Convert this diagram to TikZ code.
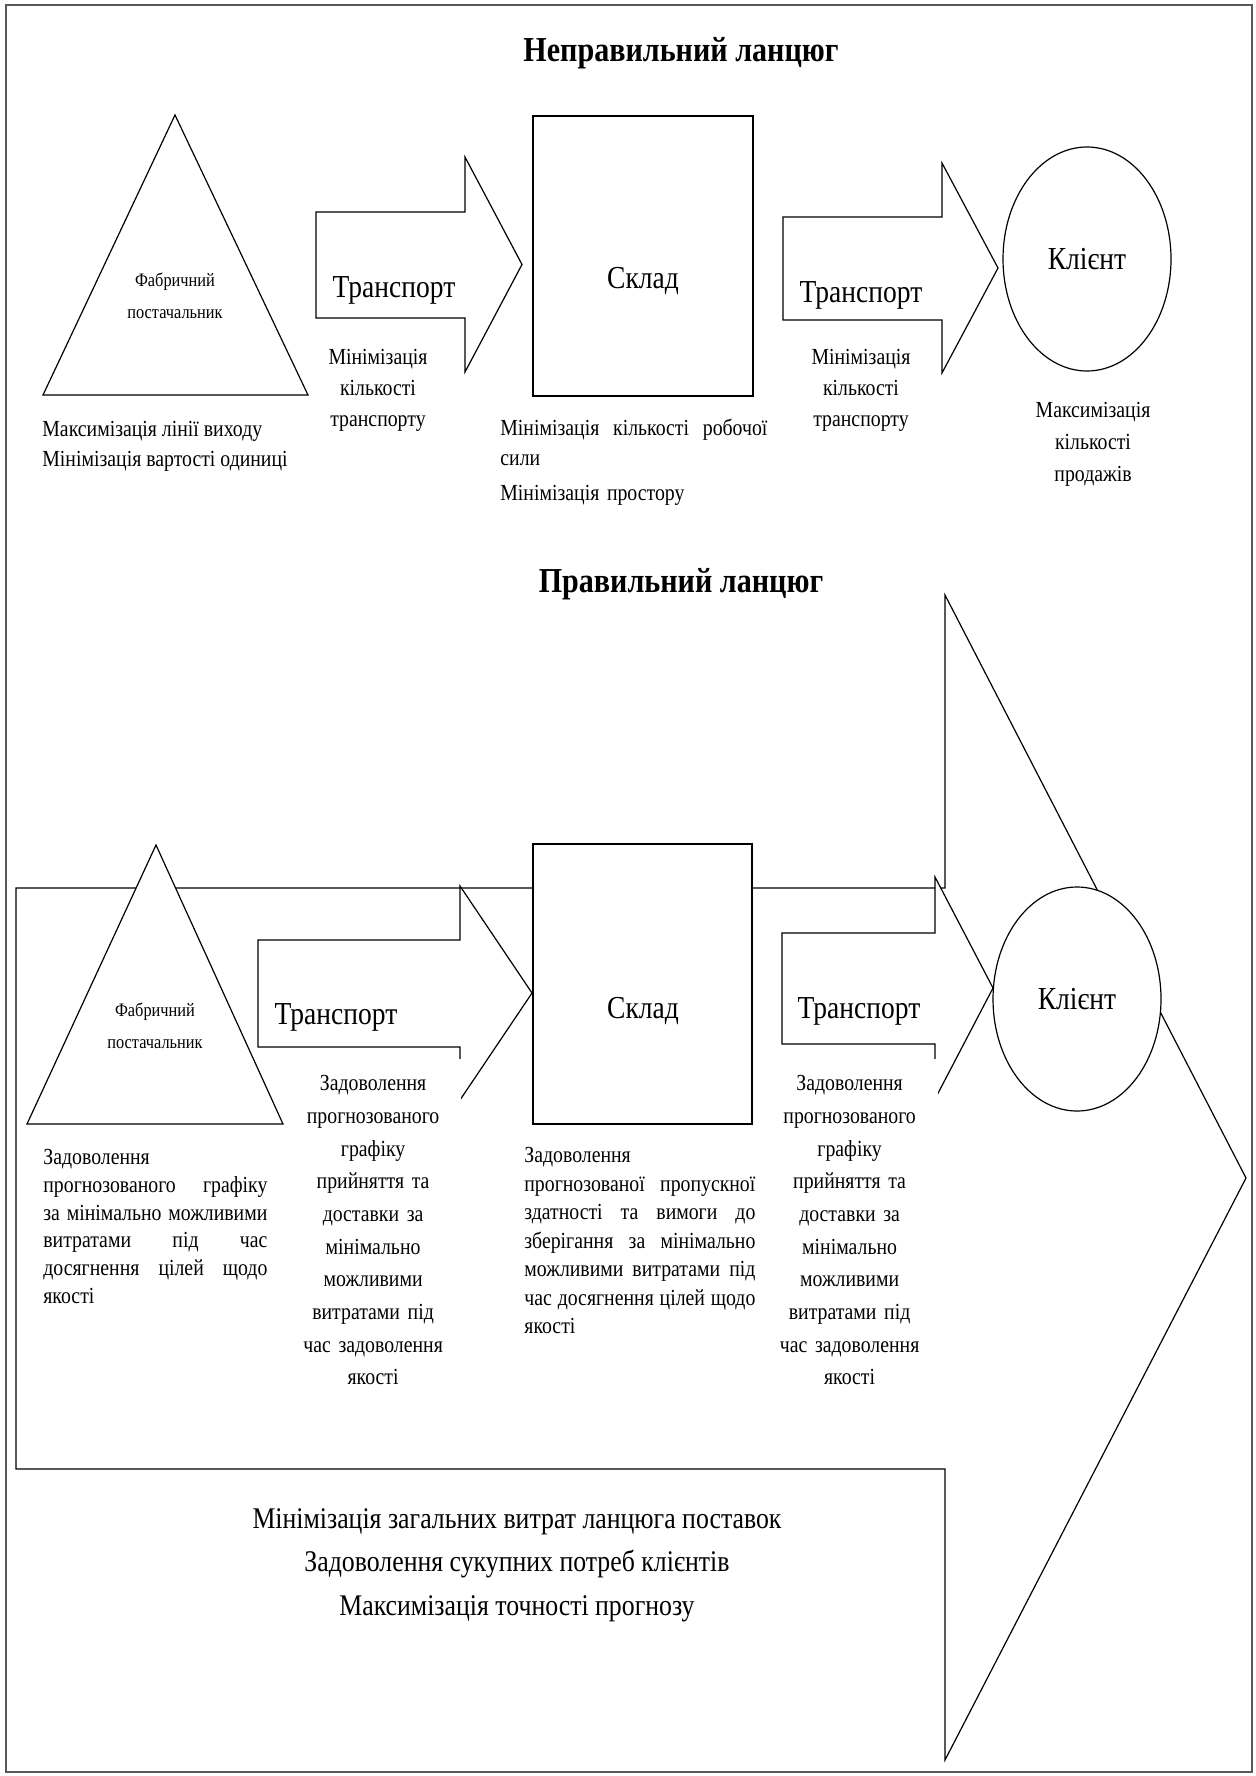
\documentclass[tikz,border=0pt]{standalone}
\usepackage{fontspec}
\setmainfont{Liberation Serif}[FakeStretch=0.86]
\usetikzlibrary{shapes.geometric}

% a line set out to the full width of its box
\newcommand{\jline}[1]{\makebox[\hsize][s]{\spaceskip=0.25em plus 1fil\relax #1}}
% block arrow: left, neck, tip, body top, body bottom, head top, head bottom
\newcommand{\blockarrow}[7]{%
  \draw[figline, fill=white] (#1,#4) -- (#2,#4) -- (#2,#6) -- (#3,{(#6+#7)/2})
    -- (#2,#7) -- (#2,#5) -- (#1,#5) -- cycle;}

\begin{document}
\begin{tikzpicture}[x=0.5pt, y=-0.5pt]
  \tikzstyle{figline} = [draw=black, line width=0.6pt]
  \tikzstyle{heading} = [anchor=base, font=\fontsize{17.5}{21}\selectfont\bfseries]
  \tikzstyle{label} = [anchor=base, font=\fontsize{16}{19}\selectfont]
  \tikzstyle{tiny} = [anchor=north, inner sep=0pt, align=center, font=\fontsize{9.5}{16}\selectfont]
  \tikzstyle{note} = [anchor=north, inner sep=0pt, align=center, font=\fontsize{11.5}{16}\selectfont]
  \tikzstyle{para} = [anchor=north west, inner sep=0pt, align=left, font=\fontsize{11.5}{14.5}\selectfont]
  \tikzstyle{cover} = [note, anchor=north east, fill=white, text width=88pt, inner ysep=8pt,
                       font=\fontsize{11.5}{16.35}\selectfont]
  \tikzstyle{client} = [ellipse, figline, fill=white, inner sep=0pt, minimum width=84pt,
                        minimum height=112pt, font=\fontsize{16}{19}\selectfont]

  \useasboundingbox (0,0) rectangle (1255,1776);
  \draw[black!65, line width=1pt] (6,5) rectangle (1252,1772);

  % wrong chain
  \node[heading] (wrongtitle) at (681,62) {Неправильний ланцюг};
  \draw[figline, fill=white] (175,115) -- (308,395) -- (43,395) -- cycle;
  \node[tiny] (factory1) at (175,272) {Фабричний\\постачальник};
  \blockarrow{316}{465}{522}{212}{318}{157}{372}
  \node[label] (transport1) at (394,297) {Транспорт};
  \node[note, font=\fontsize{11.5}{15.5}\selectfont] (trnote1) at (378,349) {Мінімізація\\кількості\\транспорту};
  \draw[figline, fill=white] (533,116) rectangle (753,396);
  \node[label] (store1) at (643,288) {Склад};
  \node[para, text width=133.5pt, font=\fontsize{11.5}{15}\selectfont] (storenote1) at (500,419)
    {\jline{Мінімізація кількості робочої}\\ сили\\[2.5pt] Мінімізація простору};
  \blockarrow{783}{942}{998}{217}{320}{163}{373}
  \node[label] (transport2) at (861,302) {Транспорт};
  \node[note, font=\fontsize{11.5}{15.5}\selectfont] (trnote2) at (861,349) {Мінімізація\\кількості\\транспорту};
  \node[client] (client1) at (1087,259) {Клієнт};
  \node[note] (clientnote1) at (1093,402) {Максимізація\\кількості\\продажів};
  \node[para, font=\fontsize{11.5}{15}\selectfont] (factorynote1) at (42,421)
    {Максимізація лінії виходу\\Мінімізація вартості одиниці};

  % right chain
  \node[heading] (righttitle) at (681,592) {Правильний ланцюг};
  \draw[figline] (16,888) -- (945,888) -- (945,595) -- (1246,1178) -- (945,1760)
    -- (945,1469) -- (16,1469) -- cycle;
  \draw[figline, fill=white] (156,845) -- (283,1124) -- (27,1124) -- cycle;
  \node[tiny] (factory2) at (155,1002) {Фабричний\\постачальник};
  \blockarrow{258}{460}{532}{940}{1047}{886}{1100}
  \node[label] (transport3) at (336,1024) {Транспорт};
  \draw[figline, fill=white] (533,844) rectangle (752,1124);
  \node[label] (store2) at (643,1018) {Склад};
  \blockarrow{782}{935}{993}{933}{1044}{877}{1099}
  \node[label] (transport4) at (859,1018) {Транспорт};
  \node[client] (client2) at (1077,999) {Клієнт};
  \node[cover] (trnote3) at (461.5,1059) {Задоволення\\прогнозованого\\графіку\\прийняття та\\доставки за\\мінімально\\можливими\\витратами під\\час задоволення\\якості};
  \node[cover] (trnote4) at (938,1059) {Задоволення\\прогнозованого\\графіку\\прийняття та\\доставки за\\мінімально\\можливими\\витратами під\\час задоволення\\якості};
  \node[para, text width=112pt, font=\fontsize{11.5}{13.85}\selectfont] (factorynote2) at (43,1149)
    {Задоволення\\ \jline{прогнозованого графіку}\\ \jline{за мінімально можливими}\\
     \jline{витратами під час}\\ \jline{досягнення цілей щодо}\\ якості};
  \node[para, text width=115.5pt, font=\fontsize{11.5}{14.25}\selectfont] (storenote2) at (524,1147)
    {Задоволення\\ \jline{прогнозованої пропускної}\\ \jline{здатності та вимоги до}\\
     \jline{зберігання за мінімально}\\ \jline{можливими витратами під}\\
     \jline{час досягнення цілей щодо}\\ якості};
  \node[note, font=\fontsize{15}{21.75}\selectfont] (goals) at (517,1508)
    {Мінімізація загальних витрат ланцюга поставок\\Задоволення сукупних потреб клієнтів\\Максимізація точності прогнозу};
\end{tikzpicture}
\end{document}
